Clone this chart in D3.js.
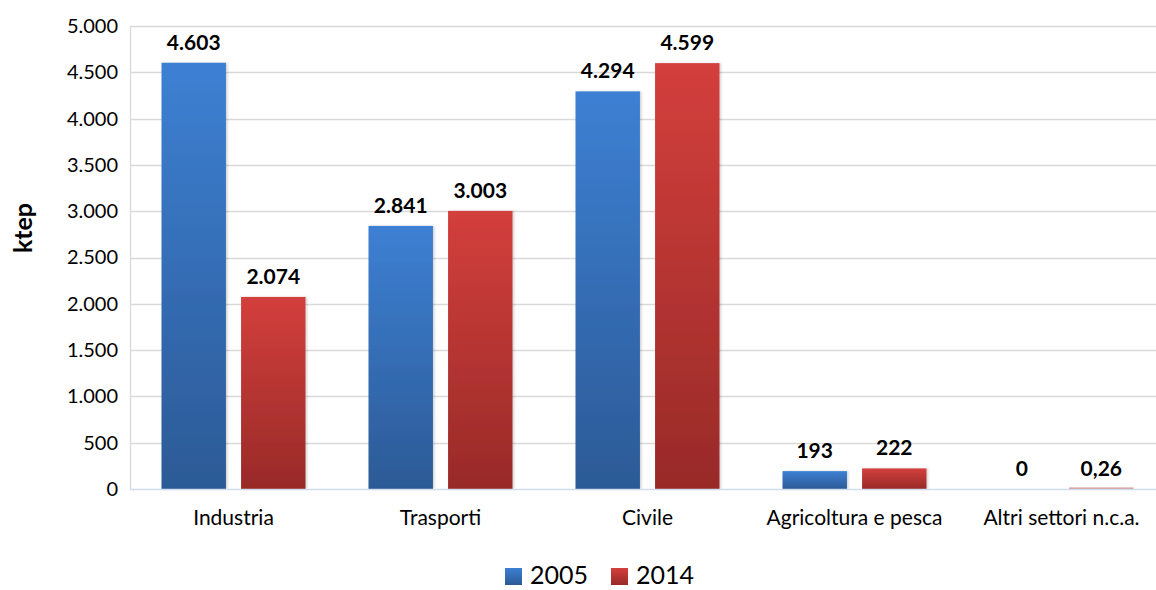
<!DOCTYPE html>
<html>
<head>
<meta charset="utf-8">
<script src="https://cdn.jsdelivr.net/npm/d3@7/dist/d3.min.js"></script>
<style>
  html, body { margin: 0; padding: 0; background: #fff; }
  svg { display: block; font-family: Lato, "Open Sans", sans-serif; }
</style>
</head>
<body>
<svg id="chart" width="1156" height="590"></svg>
<script>
// Consumi finali di energia per settore (ktep)
const categories = ["Industria", "Trasporti", "Civile", "Agricoltura e pesca", "Altri settori n.c.a."];
const years = ["2005", "2014"];
const values2005 = [4603, 2841, 4294, 193, 0];
const values2014 = [2074, 3003, 4599, 222, 0.26];
const valueLabels2005 = ["4.603", "2.841", "4.294", "193", "0"];
const valueLabels2014 = ["2.074", "3.003", "4.599", "222", "0,26"];
const yTicks = [0, 500, 1000, 1500, 2000, 2500, 3000, 3500, 4000, 4500, 5000];
const yTickLabels = ["0", "500", "1.000", "1.500", "2.000", "2.500", "3.000", "3.500", "4.000", "4.500", "5.000"];

const svg = d3.select("#chart");
const W = 1156;
const plot = { left: 130, right: 1165, top: 26, bottom: 489 };

const x0 = d3.scaleBand().domain(categories).range([plot.left, plot.right]).paddingInner(0).paddingOuter(0);
const x1 = d3.scaleBand().domain(years).range([31.5, x0.bandwidth() - 31.5]).paddingInner(0.19);
const y = d3.scaleLinear().domain([0, 5000]).range([plot.bottom, plot.top]);

// Gradients and soft shadow
const defs = svg.append("defs");
const grads = {
  "2005": ["#3d80d3", "#2c5a96"],
  "2014": ["#d33f3c", "#982a28"]
};
Object.entries(grads).forEach(([k, c]) => {
  const g = defs.append("linearGradient").attr("id", "g" + k)
    .attr("x1", 0).attr("y1", 0).attr("x2", 0).attr("y2", 1);
  g.append("stop").attr("offset", "0%").attr("stop-color", c[0]);
  g.append("stop").attr("offset", "100%").attr("stop-color", c[1]);
});
const f = defs.append("filter").attr("id", "shadow").attr("x", "-20%").attr("y", "-20%").attr("width", "140%").attr("height", "140%");
f.append("feDropShadow").attr("dx", 1.5).attr("dy", 0).attr("stdDeviation", 1.2)
  .attr("flood-color", "#000").attr("flood-opacity", 0.18);

// Gridlines
svg.append("g").selectAll("line").data(yTicks.filter(d => d > 0)).join("line")
  .attr("x1", plot.left).attr("x2", W)
  .attr("y1", d => Math.round(y(d)) + 0.5).attr("y2", d => Math.round(y(d)) + 0.5)
  .attr("stroke", "#d9d9d9").attr("stroke-width", 1.3);

// Left frame line
svg.append("line").attr("x1", plot.left + 0.5).attr("x2", plot.left + 0.5)
  .attr("y1", plot.top).attr("y2", plot.bottom)
  .attr("stroke", "#d9d9d9").attr("stroke-width", 1.3);

// Y axis labels
const yAxis = d3.axisLeft(y).tickValues(yTicks)
  .tickFormat((d, i) => yTickLabels[i]).tickSize(0).tickPadding(12);
const ya = svg.append("g").attr("transform", `translate(${plot.left},0)`).call(yAxis);
ya.select(".domain").remove();
ya.selectAll("text").attr("font-size", 20).attr("fill", "#000")
  .attr("font-family", "Lato, 'Open Sans', sans-serif");

// Bars
const series = [
  { year: "2005", values: values2005, labels: valueLabels2005 },
  { year: "2014", values: values2014, labels: valueLabels2014 }
];
const groups = svg.append("g").selectAll("g").data(categories).join("g")
  .attr("transform", d => `translate(${x0(d)},0)`);

series.forEach(s => {
  groups.append("rect")
    .attr("x", x1(s.year))
    .attr("width", x1.bandwidth())
    .attr("y", (d, i) => y(s.values[i]) - (s.values[i] > 0 && y(0) - y(s.values[i]) < 1.5 ? 1.5 : 0))
    .attr("height", (d, i) => {
      const h = y(0) - y(s.values[i]);
      return s.values[i] > 0 ? Math.max(h, 1.5) : 0;
    })
    .attr("fill", (d, i) => (y(0) - y(s.values[i]) < 3 ? "#d99596" : `url(#g${s.year})`))
    .attr("filter", (d, i) => (y(0) - y(s.values[i]) < 3 ? null : "url(#shadow)"));

  groups.append("text")
    .attr("x", x1(s.year) + x1.bandwidth() / 2)
    .attr("y", (d, i) => y(s.values[i]) - 13)
    .attr("text-anchor", "middle")
    .attr("font-size", 21).attr("font-weight", "bold").attr("fill", "#000")
    .text((d, i) => s.labels[i]);
});

// X axis baseline
svg.append("line").attr("x1", plot.left).attr("x2", W)
  .attr("y1", plot.bottom + 0.5).attr("y2", plot.bottom + 0.5)
  .attr("stroke", "#d0dcea").attr("stroke-width", 1.5);

// Category labels
const xAxis = d3.axisBottom(x0).tickSize(0).tickPadding(21);
const xa = svg.append("g").attr("transform", `translate(0,${plot.bottom})`).call(xAxis);
xa.select(".domain").remove();
xa.selectAll("text").attr("font-size", 21).attr("fill", "#000")
  .attr("font-family", "Lato, 'Open Sans', sans-serif");

// Axis title
svg.append("text")
  .attr("transform", "translate(32,228) rotate(-90)")
  .attr("text-anchor", "middle")
  .attr("font-size", 25).attr("font-weight", "bold").attr("fill", "#000")
  .text("ktep");

// Legend
const legend = svg.append("g");
const legendX = [505, 611];
years.forEach((yr, i) => {
  legend.append("rect").attr("x", legendX[i]).attr("y", 568).attr("width", 17).attr("height", 17)
    .attr("fill", `url(#g${yr})`);
  legend.append("text").attr("x", legendX[i] + 25).attr("y", 584)
    .attr("font-size", 25).attr("fill", "#000").text(yr);
});
</script>
</body>
</html>
